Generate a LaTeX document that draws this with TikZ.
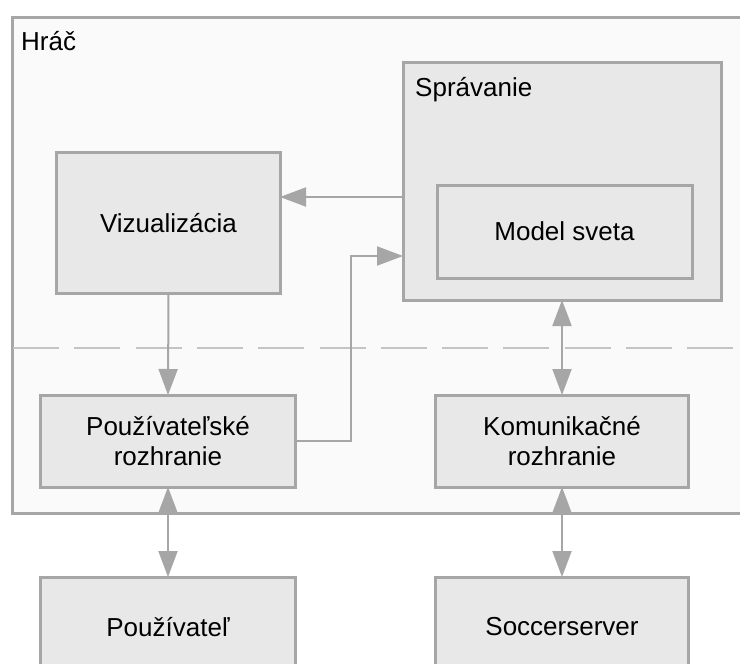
\documentclass[tikz,border=0pt]{standalone}
\usepackage{fontspec}
\setmainfont{Liberation Sans}
\usetikzlibrary{arrows.meta}
\definecolor{edgegray}{HTML}{A6A6A6}
\definecolor{boxfill}{HTML}{E8E8E8}
\definecolor{areafill}{HTML}{FAFAFA}
\definecolor{dashgray}{HTML}{C4C4C4}
\begin{document}
\begin{tikzpicture}[x=1bp,y=-1bp,
  >={Triangle[length=26bp,width=19bp]},
  every node/.style={font=\fontsize{26bp}{30bp}\selectfont, text=black},
  block/.style={draw=edgegray, line width=3bp, fill=boxfill, align=center,
    inner sep=0pt, outer sep=0pt},
  area/.style={draw=edgegray, line width=3bp, fill=areafill},
  conn/.style={draw=edgegray, line width=2bp},
  label/.style={anchor=base west, inner sep=0pt}]
  \clip (0,0) rectangle (740,664);
  \fill[white] (0,0) rectangle (740,664);

  % player area, its right edge runs past the page
  \node[area, minimum width=760bp, minimum height=496bp, anchor=north west,
    inner sep=0pt] (hrac) at (11,16) {};
  \node[label] (hraclabel) at (21,51) {Hráč};

  % split between logic and interface layers
  \coordinate (dl) at (13,348);
  \coordinate (dr) at (745,348);
  \draw[dashgray, line width=1.2bp, dash pattern=on 46bp off 15.3bp] (dl) -- (dr);

  % behaviour with nested world model
  \node[block, minimum width=318bp, minimum height=237bp] (spr) at (562,181.5) {};
  \node[label] (sprlabel) at (415,97) {Správanie};
  \node[block, minimum width=255bp, minimum height=93bp] (model) at (564.5,231.5) {Model sveta};

  \node[block, minimum width=223bp, minimum height=140bp] (viz) at (168.5,223) {Vizualizácia};

  \node[block, minimum width=254bp, minimum height=92bp] (ui) at (168,441) {Používateľské\\rozhranie};
  \node[block, minimum width=253bp, minimum height=92bp] (komm) at (562,441) {Komunikačné\\rozhranie};

  \node[block, minimum width=254bp, minimum height=100bp] (user) at (168,627) {Používateľ};
  \node[block, minimum width=253bp, minimum height=100bp] (server) at (562,627) {Soccerserver};

  % connectors
  \coordinate (sprout) at (404,197);
  \draw[conn, ->] (sprout) -- (sprout -| viz.east);
  \draw[conn, ->] (viz.south) -- (ui.north);
  \coordinate (bend) at (351,256);
  \draw[conn, ->] (ui.east) -| (bend) -- (bend -| spr.west);
  \draw[conn, <->] (spr.south -| komm.north) -- (komm.north);
  \draw[conn, <->] (ui.south) -- (user.north);
  \draw[conn, <->] (komm.south) -- (server.north);
\end{tikzpicture}
\end{document}
